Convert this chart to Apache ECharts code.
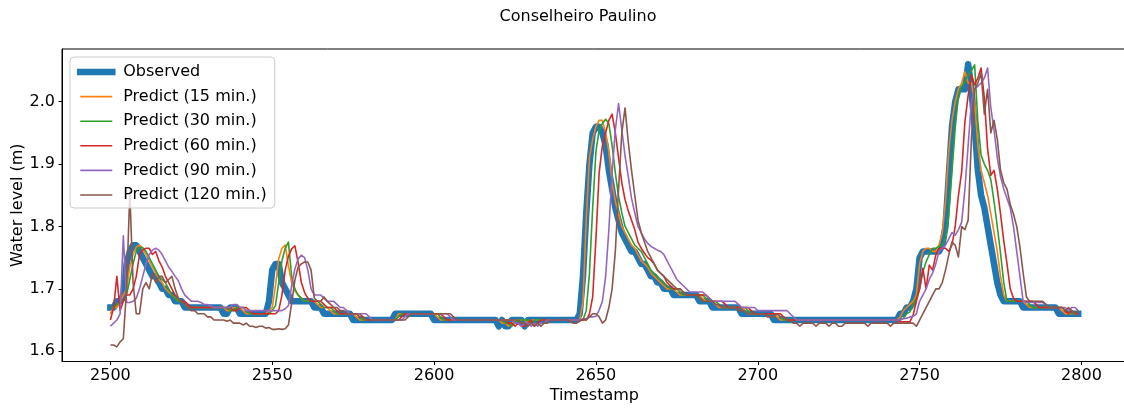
<!DOCTYPE html>
<html><head><meta charset="utf-8">
<script src="https://cdn.jsdelivr.net/npm/echarts@6/dist/echarts.min.js"></script>
<style>html,body{margin:0;padding:0;background:#fff}#c{width:1124px;height:408px}</style>
</head><body><div id="c"></div>
<script>
// ---- data (timestamps 2500..2799, one value per timestamp) ----
const startTimestamp = 2500;
const seriesNames = ['Observed','Predict (15 min.)','Predict (30 min.)','Predict (60 min.)','Predict (90 min.)','Predict (120 min.)'];
const xTickLabels = [2500,2550,2600,2650,2700,2750,2800];
const yTickLabels = [1.6,1.7,1.8,1.9,2.0];

const observed = [
1.67,1.67,1.68,1.68,1.69,1.74,1.76,1.77,1.77,1.76,
1.75,1.74,1.73,1.72,1.72,1.71,1.70,1.70,1.69,1.69,
1.68,1.68,1.68,1.67,1.67,1.67,1.67,1.67,1.67,1.67,
1.67,1.67,1.67,1.67,1.67,1.66,1.66,1.67,1.67,1.67,
1.66,1.66,1.66,1.66,1.66,1.66,1.66,1.66,1.66,1.68,
1.73,1.74,1.74,1.71,1.70,1.69,1.68,1.68,1.68,1.68,
1.68,1.68,1.68,1.67,1.67,1.67,1.66,1.66,1.66,1.66,
1.66,1.66,1.66,1.66,1.66,1.65,1.65,1.65,1.65,1.65,
1.65,1.65,1.65,1.65,1.65,1.65,1.65,1.65,1.66,1.66,
1.66,1.66,1.66,1.66,1.66,1.66,1.66,1.66,1.66,1.66,
1.65,1.65,1.65,1.65,1.65,1.65,1.65,1.65,1.65,1.65,
1.65,1.65,1.65,1.65,1.65,1.65,1.65,1.65,1.65,1.65,
1.64,1.65,1.64,1.64,1.65,1.65,1.65,1.65,1.64,1.65,
1.65,1.65,1.65,1.65,1.65,1.65,1.65,1.65,1.65,1.65,
1.65,1.65,1.65,1.65,1.65,1.66,1.72,1.82,1.90,1.95,
1.96,1.96,1.95,1.93,1.89,1.86,1.83,1.81,1.79,1.78,
1.77,1.76,1.76,1.75,1.74,1.74,1.73,1.72,1.72,1.71,
1.71,1.70,1.70,1.70,1.69,1.69,1.69,1.69,1.69,1.69,
1.69,1.69,1.68,1.68,1.68,1.68,1.67,1.67,1.67,1.67,
1.67,1.67,1.67,1.67,1.67,1.66,1.66,1.66,1.66,1.66,
1.66,1.66,1.66,1.66,1.66,1.65,1.65,1.65,1.65,1.65,
1.65,1.65,1.65,1.65,1.65,1.65,1.65,1.65,1.65,1.65,
1.65,1.65,1.65,1.65,1.65,1.65,1.65,1.65,1.65,1.65,
1.65,1.65,1.65,1.65,1.65,1.65,1.65,1.65,1.65,1.65,
1.65,1.65,1.65,1.65,1.66,1.66,1.67,1.67,1.68,1.70,
1.75,1.76,1.76,1.76,1.76,1.76,1.76,1.77,1.80,1.88,
1.96,2.00,2.02,2.02,2.02,2.06,2.02,1.96,1.89,1.85,
1.83,1.80,1.77,1.74,1.71,1.69,1.68,1.68,1.68,1.68,
1.68,1.68,1.67,1.67,1.67,1.67,1.67,1.67,1.67,1.67,
1.67,1.67,1.67,1.66,1.66,1.66,1.66,1.66,1.66,1.66
];

const predict15 = [
1.66,1.67,1.67,1.68,1.69,1.70,1.735,1.755,1.767,1.77,
1.765,1.755,1.745,1.735,1.725,1.715,1.71,1.70,1.695,1.69,
1.685,1.68,1.68,1.675,1.67,1.67,1.67,1.67,1.67,1.67,
1.67,1.67,1.67,1.67,1.67,1.67,1.665,1.665,1.67,1.67,
1.67,1.665,1.66,1.66,1.66,1.66,1.66,1.66,1.66,1.665,
1.67,1.705,1.748,1.765,1.77,1.737,1.71,1.697,1.69,1.685,
1.68,1.68,1.68,1.68,1.675,1.67,1.67,1.67,1.665,1.66,
1.66,1.66,1.66,1.66,1.66,1.66,1.655,1.65,1.65,1.65,
1.65,1.65,1.65,1.65,1.65,1.65,1.65,1.65,1.65,1.66,
1.66,1.66,1.66,1.66,1.66,1.66,1.66,1.66,1.66,1.66,
1.66,1.655,1.65,1.65,1.65,1.65,1.65,1.65,1.65,1.65,
1.65,1.65,1.65,1.65,1.65,1.65,1.65,1.65,1.65,1.65,
1.65,1.645,1.645,1.64,1.645,1.65,1.65,1.65,1.65,1.645,
1.65,1.65,1.65,1.65,1.65,1.65,1.65,1.65,1.65,1.65,
1.65,1.65,1.65,1.65,1.65,1.65,1.68,1.81,1.91,1.94,
1.96,1.97,1.97,1.95,1.92,1.87,1.84,1.82,1.80,1.79,
1.78,1.77,1.765,1.755,1.745,1.74,1.735,1.725,1.72,1.715,
1.71,1.705,1.70,1.70,1.70,1.695,1.69,1.69,1.69,1.69,
1.69,1.69,1.69,1.685,1.68,1.68,1.68,1.675,1.67,1.67,
1.67,1.67,1.67,1.67,1.67,1.67,1.665,1.66,1.66,1.66,
1.66,1.66,1.66,1.66,1.66,1.66,1.655,1.65,1.65,1.65,
1.65,1.65,1.65,1.65,1.65,1.65,1.65,1.65,1.65,1.65,
1.65,1.65,1.65,1.65,1.65,1.65,1.65,1.65,1.65,1.65,
1.65,1.65,1.65,1.65,1.65,1.65,1.65,1.65,1.65,1.65,
1.65,1.65,1.65,1.65,1.655,1.665,1.67,1.675,1.68,1.69,
1.74,1.76,1.765,1.765,1.76,1.76,1.77,1.79,1.84,1.92,
1.97,2.00,2.02,2.03,2.048,2.03,2.03,2.00,1.93,1.89,
1.87,1.85,1.82,1.79,1.76,1.72,1.69,1.68,1.68,1.68,
1.68,1.68,1.68,1.675,1.67,1.67,1.67,1.67,1.67,1.67,
1.67,1.67,1.67,1.67,1.665,1.66,1.66,1.66,1.66,1.66
];

const predict30 = [
1.67,1.67,1.675,1.68,1.68,1.69,1.715,1.74,1.76,1.766,
1.766,1.76,1.75,1.74,1.73,1.72,1.715,1.71,1.70,1.69,
1.685,1.68,1.68,1.675,1.67,1.67,1.67,1.67,1.67,1.67,
1.67,1.67,1.67,1.67,1.67,1.67,1.67,1.665,1.665,1.67,
1.67,1.67,1.665,1.66,1.66,1.66,1.66,1.66,1.66,1.66,
1.665,1.673,1.71,1.745,1.765,1.775,1.72,1.70,1.69,1.685,
1.68,1.68,1.68,1.68,1.68,1.675,1.67,1.67,1.67,1.665,
1.66,1.66,1.66,1.66,1.66,1.66,1.66,1.655,1.65,1.65,
1.65,1.65,1.65,1.65,1.65,1.65,1.65,1.65,1.65,1.655,
1.66,1.66,1.66,1.66,1.66,1.66,1.66,1.66,1.66,1.66,
1.66,1.66,1.655,1.65,1.65,1.65,1.65,1.65,1.65,1.65,
1.65,1.65,1.65,1.65,1.65,1.65,1.65,1.65,1.65,1.65,
1.65,1.65,1.645,1.645,1.64,1.645,1.65,1.65,1.65,1.65,
1.645,1.65,1.65,1.65,1.65,1.65,1.65,1.65,1.65,1.65,
1.65,1.65,1.65,1.65,1.65,1.65,1.65,1.665,1.725,1.83,
1.92,1.955,1.965,1.972,1.965,1.93,1.886,1.848,1.822,1.80,
1.79,1.78,1.77,1.765,1.76,1.75,1.74,1.73,1.725,1.72,
1.715,1.71,1.705,1.70,1.70,1.70,1.695,1.69,1.69,1.69,
1.69,1.69,1.69,1.69,1.685,1.68,1.68,1.68,1.675,1.67,
1.67,1.67,1.67,1.67,1.67,1.67,1.67,1.665,1.66,1.66,
1.66,1.66,1.66,1.66,1.66,1.66,1.66,1.655,1.65,1.65,
1.65,1.65,1.65,1.65,1.65,1.65,1.65,1.65,1.65,1.65,
1.65,1.65,1.65,1.65,1.65,1.65,1.65,1.65,1.65,1.65,
1.65,1.65,1.65,1.65,1.65,1.65,1.65,1.65,1.65,1.65,
1.65,1.65,1.65,1.65,1.65,1.653,1.66,1.663,1.675,1.685,
1.70,1.727,1.743,1.755,1.765,1.765,1.768,1.77,1.78,1.818,
1.888,1.958,2.011,2.025,2.032,2.043,2.05,2.059,1.968,1.914,
1.90,1.89,1.875,1.84,1.80,1.757,1.71,1.68,1.68,1.68,
1.68,1.68,1.68,1.68,1.675,1.67,1.67,1.67,1.67,1.67,
1.67,1.67,1.67,1.67,1.67,1.665,1.665,1.66,1.66,1.665
];

const predict60 = [
1.65,1.67,1.72,1.665,1.68,1.69,1.69,1.70,1.72,1.755,
1.762,1.765,1.765,1.755,1.76,1.745,1.735,1.72,1.71,1.70,
1.69,1.685,1.68,1.68,1.675,1.67,1.67,1.67,1.67,1.67,
1.67,1.67,1.67,1.67,1.67,1.67,1.67,1.67,1.665,1.665,
1.67,1.67,1.67,1.665,1.66,1.66,1.66,1.66,1.66,1.66,
1.66,1.66,1.665,1.69,1.73,1.752,1.764,1.769,1.742,1.71,
1.694,1.685,1.68,1.68,1.68,1.68,1.675,1.67,1.67,1.67,
1.665,1.66,1.66,1.66,1.66,1.66,1.66,1.66,1.655,1.65,
1.65,1.65,1.65,1.65,1.65,1.65,1.65,1.65,1.65,1.65,
1.655,1.66,1.66,1.66,1.66,1.66,1.66,1.66,1.66,1.66,
1.66,1.66,1.66,1.655,1.65,1.65,1.65,1.65,1.65,1.65,
1.65,1.65,1.65,1.65,1.65,1.65,1.65,1.65,1.65,1.65,
1.65,1.65,1.65,1.645,1.645,1.64,1.645,1.64,1.64,1.645,
1.65,1.64,1.645,1.65,1.65,1.65,1.65,1.65,1.65,1.65,
1.65,1.65,1.65,1.65,1.65,1.65,1.65,1.65,1.66,1.687,
1.78,1.886,1.93,1.95,1.97,1.98,1.95,1.91,1.87,1.843,
1.825,1.81,1.795,1.775,1.765,1.757,1.75,1.746,1.74,1.73,
1.725,1.72,1.71,1.705,1.70,1.70,1.70,1.695,1.69,1.69,
1.69,1.69,1.69,1.69,1.69,1.685,1.68,1.68,1.68,1.68,
1.675,1.67,1.67,1.67,1.67,1.67,1.67,1.67,1.665,1.66,
1.66,1.66,1.66,1.66,1.66,1.66,1.66,1.66,1.655,1.65,
1.65,1.65,1.65,1.65,1.65,1.65,1.65,1.65,1.65,1.65,
1.65,1.65,1.65,1.65,1.65,1.65,1.65,1.65,1.65,1.65,
1.65,1.65,1.65,1.65,1.65,1.65,1.65,1.65,1.65,1.65,
1.65,1.65,1.65,1.65,1.647,1.647,1.647,1.647,1.658,1.68,
1.70,1.733,1.70,1.738,1.73,1.754,1.765,1.765,1.765,1.76,
1.77,1.80,1.85,1.888,1.968,2.01,2.043,2.027,2.038,2.054,
2.006,1.925,1.882,1.89,1.86,1.82,1.777,1.74,1.70,1.685,
1.68,1.68,1.68,1.68,1.68,1.68,1.675,1.67,1.67,1.67,
1.67,1.67,1.67,1.67,1.67,1.665,1.66,1.665,1.66,1.66
];

const predict90 = [
1.64,1.645,1.65,1.66,1.785,1.678,1.678,1.68,1.685,1.70,
1.72,1.74,1.755,1.762,1.765,1.762,1.755,1.745,1.735,1.728,
1.72,1.713,1.70,1.69,1.685,1.68,1.68,1.68,1.678,1.675,
1.675,1.672,1.67,1.67,1.67,1.67,1.67,1.67,1.675,1.675,
1.67,1.67,1.665,1.665,1.665,1.665,1.665,1.665,1.665,1.665,
1.665,1.665,1.665,1.665,1.668,1.673,1.705,1.732,1.748,1.754,
1.75,1.73,1.70,1.69,1.69,1.69,1.685,1.68,1.68,1.68,
1.675,1.67,1.67,1.665,1.66,1.66,1.66,1.66,1.66,1.66,
1.655,1.65,1.65,1.65,1.65,1.65,1.65,1.65,1.65,1.65,
1.65,1.655,1.66,1.66,1.66,1.66,1.66,1.66,1.66,1.66,
1.66,1.66,1.66,1.66,1.66,1.655,1.65,1.65,1.65,1.65,
1.65,1.65,1.65,1.65,1.65,1.65,1.65,1.65,1.65,1.65,
1.65,1.65,1.65,1.65,1.65,1.645,1.645,1.64,1.645,1.645,
1.64,1.645,1.64,1.645,1.645,1.65,1.65,1.65,1.65,1.65,
1.65,1.65,1.65,1.65,1.65,1.65,1.652,1.652,1.655,1.655,
1.656,1.666,1.68,1.72,1.795,1.886,1.955,1.997,1.955,1.913,
1.88,1.845,1.822,1.80,1.79,1.78,1.773,1.768,1.765,1.762,
1.76,1.755,1.745,1.735,1.725,1.715,1.71,1.705,1.70,1.695,
1.695,1.695,1.695,1.695,1.69,1.685,1.68,1.68,1.68,1.68,
1.68,1.68,1.68,1.68,1.675,1.67,1.67,1.67,1.67,1.67,
1.665,1.665,1.665,1.665,1.665,1.665,1.665,1.665,1.665,1.665,
1.66,1.655,1.65,1.65,1.65,1.65,1.65,1.65,1.65,1.65,
1.65,1.65,1.65,1.65,1.65,1.65,1.65,1.65,1.65,1.65,
1.65,1.65,1.65,1.65,1.65,1.65,1.65,1.65,1.65,1.65,
1.65,1.65,1.65,1.65,1.65,1.652,1.653,1.655,1.656,1.66,
1.68,1.69,1.70,1.715,1.725,1.74,1.76,1.765,1.77,1.78,
1.79,1.786,1.795,1.807,1.86,1.93,2.00,2.02,2.025,2.03,
2.038,2.054,1.99,1.955,1.91,1.88,1.86,1.845,1.83,1.80,
1.76,1.72,1.68,1.678,1.678,1.678,1.678,1.678,1.678,1.675,
1.67,1.67,1.67,1.67,1.67,1.67,1.665,1.67,1.67,1.665
];

const predict120 = [
1.61,1.61,1.607,1.615,1.62,1.70,1.855,1.71,1.66,1.66,
1.70,1.71,1.70,1.725,1.71,1.72,1.72,1.71,1.715,1.72,
1.70,1.685,1.68,1.675,1.67,1.665,1.665,1.66,1.66,1.66,
1.655,1.655,1.65,1.65,1.65,1.65,1.648,1.65,1.645,1.645,
1.645,1.642,1.645,1.64,1.64,1.638,1.64,1.64,1.637,1.638,
1.635,1.635,1.636,1.635,1.636,1.642,1.677,1.714,1.735,1.74,
1.743,1.743,1.73,1.685,1.68,1.68,1.687,1.68,1.675,1.67,
1.67,1.665,1.665,1.66,1.66,1.66,1.66,1.655,1.655,1.65,
1.65,1.65,1.65,1.65,1.65,1.65,1.65,1.65,1.65,1.65,
1.65,1.65,1.655,1.66,1.66,1.66,1.66,1.66,1.66,1.66,
1.66,1.66,1.66,1.66,1.66,1.66,1.655,1.65,1.65,1.65,
1.65,1.65,1.65,1.65,1.65,1.65,1.65,1.65,1.65,1.65,
1.65,1.65,1.65,1.65,1.65,1.65,1.65,1.645,1.645,1.64,
1.645,1.64,1.645,1.64,1.645,1.645,1.65,1.65,1.65,1.65,
1.65,1.65,1.648,1.645,1.645,1.648,1.652,1.65,1.655,1.66,
1.66,1.655,1.645,1.65,1.67,1.70,1.76,1.86,1.95,1.99,
1.935,1.89,1.85,1.81,1.79,1.775,1.76,1.75,1.74,1.73,
1.725,1.72,1.715,1.71,1.705,1.70,1.70,1.695,1.69,1.69,
1.69,1.69,1.685,1.68,1.68,1.68,1.68,1.675,1.675,1.67,
1.67,1.67,1.67,1.67,1.665,1.665,1.665,1.66,1.66,1.66,
1.66,1.66,1.66,1.655,1.655,1.655,1.66,1.655,1.655,1.65,
1.648,1.645,1.645,1.64,1.645,1.645,1.645,1.645,1.64,1.645,
1.645,1.645,1.64,1.645,1.645,1.64,1.64,1.645,1.645,1.645,
1.645,1.645,1.645,1.645,1.64,1.645,1.645,1.645,1.645,1.645,
1.645,1.64,1.645,1.645,1.645,1.645,1.645,1.645,1.645,1.64,
1.65,1.66,1.67,1.68,1.69,1.70,1.70,1.71,1.73,1.754,
1.775,1.77,1.751,1.80,1.795,1.81,1.94,2.02,2.03,2.046,
1.98,2.02,1.95,1.97,1.94,1.89,1.87,1.86,1.835,1.82,
1.80,1.767,1.725,1.687,1.68,1.68,1.68,1.68,1.68,1.675,
1.67,1.67,1.67,1.67,1.67,1.665,1.67,1.665,1.66,1.665
];

// ---- chart ----
const FONT = 'DejaVu Sans';
const colors = ['#1f77b4','#ff7f0e','#2ca02c','#d62728','#9467bd','#8c564b'];
const lineWidths = [6.5, 1.6, 1.6, 1.6, 1.6, 1.6];
const allValues = [observed, predict15, predict30, predict60, predict90, predict120];
function toPairs(arr){ return arr.map((v,i)=>[startTimestamp+i, v]); }

const series = allValues.map((arr,k)=>({
  name: seriesNames[k],
  type: 'line',
  data: toPairs(arr),
  symbol: 'none',
  showSymbol: false,
  silent: true,
  z: 2 + k,
  lineStyle: { color: colors[k], width: lineWidths[k], join: 'round', cap: k === 0 ? 'square' : 'butt' },
  itemStyle: { color: colors[k] }
}));

const chart = echarts.init(document.getElementById('c'), null, { renderer: 'canvas' });
chart.setOption({
  animation: false,
  backgroundColor: '#ffffff',
  textStyle: { fontFamily: FONT },
  title: {
    text: 'Conselheiro Paulino', left: 573, top: 4, textAlign: 'center',
    textStyle: { fontFamily: FONT, fontSize: 16, fontWeight: 'normal', color: '#000' }
  },
  legend: {
    orient: 'vertical', left: 70, top: 57,
    padding: [5, 8, 3, 7], itemGap: 4.6, itemWidth: 32, itemHeight: 14,
    backgroundColor: 'rgba(255,255,255,0.8)', borderColor: '#cccccc', borderWidth: 1, borderRadius: 4,
    itemStyle: { opacity: 0 },
    textStyle: { fontFamily: FONT, fontSize: 16, color: '#000', lineHeight: 20, padding: [0, 0, 0, 6] },
    data: seriesNames.map((n,k)=>({ name: n, lineStyle: { color: colors[k], width: lineWidths[k] } })),
    selectedMode: false, z: 10
  },
  grid: { left: 62, right: -2.6, top: 49, bottom: 46.5, show: true, borderColor: '#000', borderWidth: 1, backgroundColor: '#fff', containLabel: false, outerBoundsMode: 'none' },
  xAxis: {
    type: 'value', min: 2485.05, max: 2813.95,
    name: 'Timestamp', nameLocation: 'middle', nameGap: 26, nameMoveOverlap: false,
    nameTextStyle: { fontFamily: FONT, fontSize: 16, color: '#000' },
    axisLine: { show: true, lineStyle: { color: '#000', width: 1 } },
    axisTick: { show: true, length: 3.5, lineStyle: { color: '#000', width: 1 }, customValues: xTickLabels },
    axisLabel: { fontFamily: FONT, fontSize: 16, color: '#000', margin: 6, customValues: xTickLabels, formatter: v => String(Math.round(v)) },
    splitLine: { show: false }
  },
  yAxis: {
    type: 'value', min: 1.5835, max: 2.0845,
    name: 'Water level (m)', nameLocation: 'middle', nameGap: 36, nameMoveOverlap: false,
    nameTextStyle: { fontFamily: FONT, fontSize: 16, color: '#000' },
    axisLine: { show: true, lineStyle: { color: '#000', width: 1 } },
    axisTick: { show: true, length: 3.5, lineStyle: { color: '#000', width: 1 }, customValues: yTickLabels },
    axisLabel: { fontFamily: FONT, fontSize: 16, color: '#000', margin: 7, customValues: yTickLabels, formatter: v => Number(v).toFixed(1) },
    splitLine: { show: false }
  },
  series: series
});
</script>
</body></html>
